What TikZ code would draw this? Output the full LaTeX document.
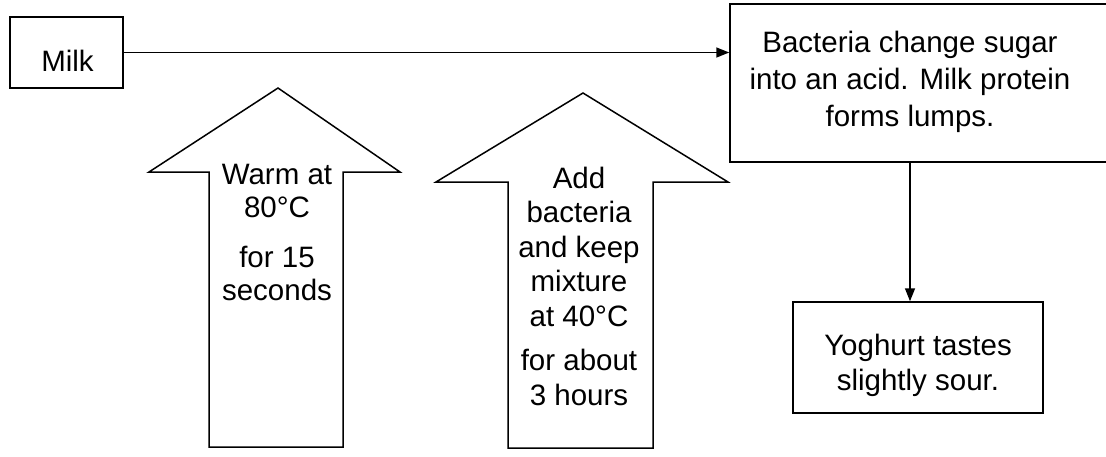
\documentclass[tikz,border=0pt]{standalone}
\usepackage{fontspec}
\setmainfont{Liberation Sans}
\usetikzlibrary{arrows.meta}
\begin{document}
\begin{tikzpicture}[x=1pt,y=-1pt,
  box/.style={draw, line width=1.5pt, inner sep=0pt, rectangle},
  txt/.style={align=center, inner sep=0pt, font=\fontsize{29.5}{37}\selectfont},
  outline/.style={draw, line width=1.5pt, line join=miter},
  conn/.style={line width=1.5pt, -{Triangle[length=13pt,width=10pt]}}]
\useasboundingbox (0,0) rectangle (1106,456);
\clip (0,0) rectangle (1106,456);
% Milk box
\node[box, minimum width=113pt, minimum height=71pt] (milkbox) at (66.5,52.5) {};
\node[txt] (milk) at (67.5,61) {Milk};
% Big box
\node[box, minimum width=385pt, minimum height=158pt] (bigbox) at (922.5,83) {};
\node[txt, font=\fontsize{29.5}{37}\selectfont] (bigtext) at (910,82) {Bacteria change sugar\\into an acid. Milk protein\\forms lumps.};
% Yoghurt box
\node[box, minimum width=250pt, minimum height=111pt] (yogbox) at (918,357.5) {};
\node[txt, font=\fontsize{29.5}{35}\selectfont] (yogtext) at (918,365.5) {Yoghurt tastes\\slightly sour.};
% Arrow 1
\draw[outline] (278,88) -- (149,172) -- (209,172) -- (209,447) -- (343,447) -- (343,172) -- (400,172) -- cycle;
\node[txt, font=\fontsize{29.5}{33}\selectfont] (warm) at (277,232) {Warm at\\80°C\\[17pt]for 15\\seconds};
% Arrow 2
\draw[outline] (583,93) -- (436,182) -- (508,182) -- (508,448) -- (653,448) -- (653,182) -- (728,182) -- cycle;
\node[txt, font=\fontsize{29.5}{34.5}\selectfont] (add) at (579,286) {Add\\bacteria\\and keep\\mixture\\at 40°C\\[10pt]for about\\3 hours};
% Connectors
\coordinate (vx) at (910,0);
\draw[conn] (milkbox.east) -- (milkbox.east -| bigbox.west);
\draw[conn] (bigbox.south -| vx) -- (yogbox.north -| vx);
\end{tikzpicture}
\end{document}
